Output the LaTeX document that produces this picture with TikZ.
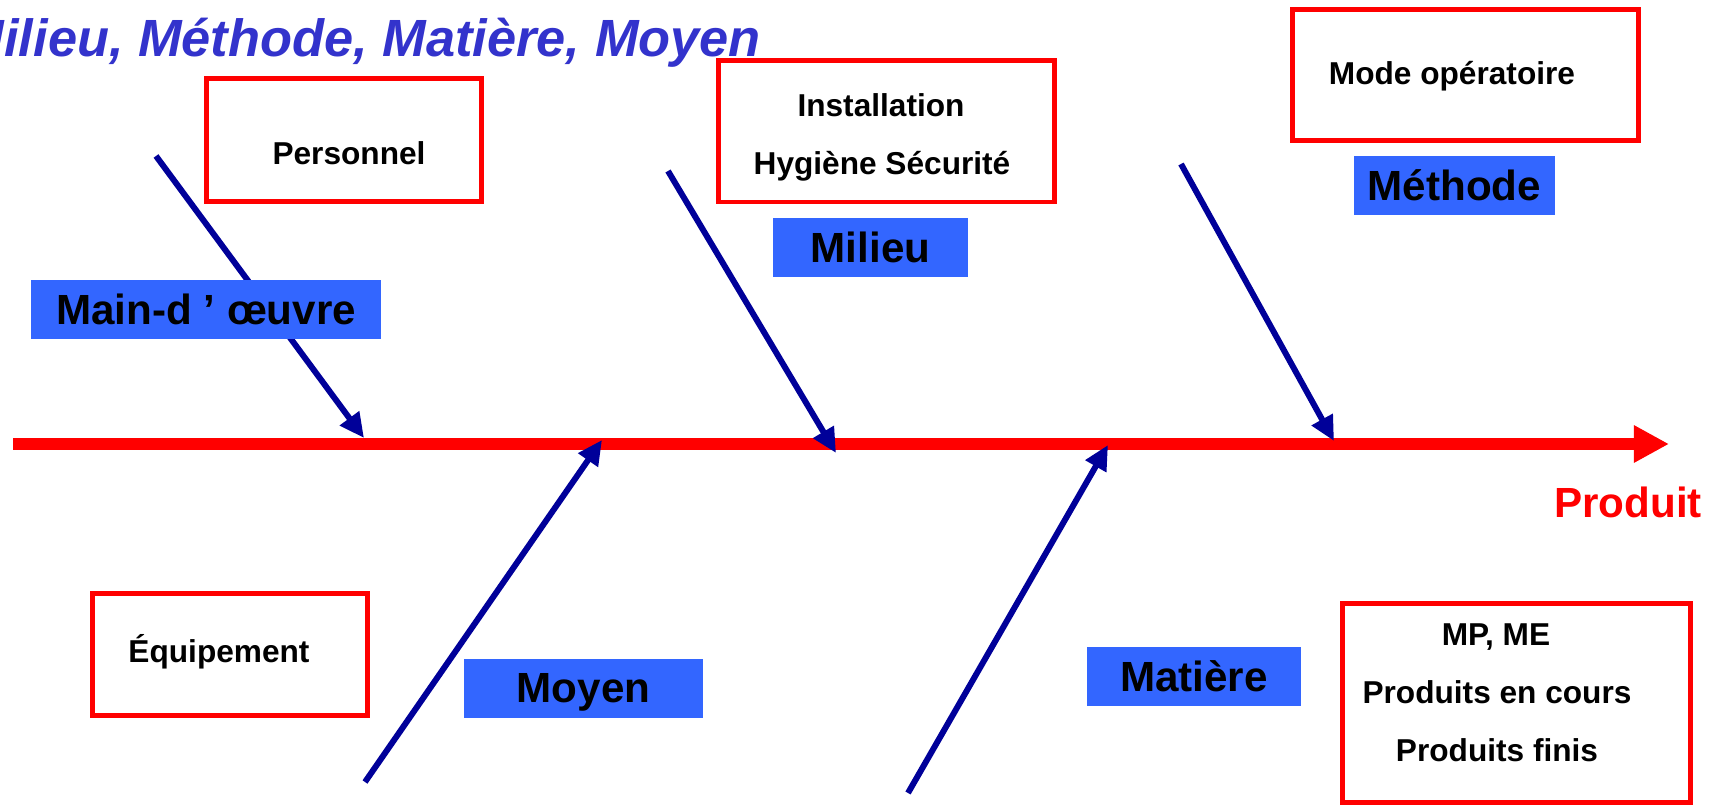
\documentclass[tikz,border=0pt]{standalone}
\usepackage{fontspec}
\setmainfont{Liberation Sans}
\usetikzlibrary{arrows.meta}

\definecolor{bonenavy}{HTML}{000099}
\definecolor{labelblue}{HTML}{3366FF}
\definecolor{titleblue}{HTML}{3333CC}

\tikzset{
  causebox/.style={draw=red,line width=1.42pt,minimum width=#1,inner sep=0pt},
  causetext/.style={anchor=base,font=\fontsize{9}{11}\selectfont\bfseries},
  familylabel/.style={fill=labelblue,inner sep=0pt,minimum height=0.59cm,
    text height=8.5pt,text depth=0pt,font=\fontsize{12}{14}\selectfont\bfseries},
  bone/.style={draw=bonenavy,line width=1.7pt,-{Triangle[length=7pt,width=6.5pt]}},
  spine/.style={draw=red,line width=3.4pt,-{Triangle[length=10pt,width=10pt]}}
}

\begin{document}
\begin{tikzpicture}
        \useasboundingbox (0,0) rectangle (17.12,8.08);
        \clip (0,0) rectangle (17.12,8.08);

        % the title, cut at the left edge
        \node[anchor=base west,inner sep=0pt,text=titleblue,
              font=\fontsize{14.9}{17}\selectfont\bfseries\itshape] (title)
              at (-0.40,7.51) {Milieu, Méthode, Matière, Moyen};

        % draw the spine
        \coordinate (tail) at (0.13,3.64);
        \coordinate (head) at (16.69,3.64);
        \draw[spine] (tail) -- (head);
        \node[anchor=base,text=red,font=\fontsize{12}{14}\selectfont\bfseries]
              (produit) at (16.28,2.91) {Produit};

        % draw the bones
        \foreach \b/\sx/\sy/\tx/\ty in {
            mo/1.56/6.52/3.64/3.70,
            mi/6.68/6.37/8.36/3.55,
            me/11.81/6.44/13.34/3.67,
            my/3.65/0.26/6.02/3.68,
            ma/9.08/0.15/11.08/3.63} {
                \coordinate (\b-start) at (\sx,\sy);
                \coordinate (\b-tip) at (\tx,\ty);
                \draw[bone] (\b-start) -- (\b-tip);
        }

        % draw the red boxes
        \node[causebox=2.75cm,minimum height=1.23cm] (personnel) at (3.44,6.68) {};
        \node[causebox=3.36cm,minimum height=1.41cm] (installation) at (8.865,6.765) {};
        \node[causebox=3.46cm,minimum height=1.31cm] (mode) at (14.655,7.33) {};
        \node[causebox=2.75cm,minimum height=1.22cm] (equipement) at (2.30,1.535) {};
        \node[causebox=3.48cm,minimum height=1.99cm] (matieres) at (15.165,1.05) {};

        % the texts in the boxes
        \foreach \n/\x/\y/\t in {
            t1/3.49/6.43/Personnel,
            t2/8.81/6.91/Installation,
            t3/8.82/6.33/Hygiène Sécurité,
            t4/14.52/7.23/Mode opératoire,
            t5/2.19/1.46/Équipement,
            t6/14.96/1.63/{MP, ME},
            t7/14.97/1.05/Produits en cours,
            t8/14.97/0.47/Produits finis}
                \node[causetext] (\n) at (\x,\y) {\t};

        % draw the family labels
        \foreach \n/\x/\y/\w/\t in {
            mainoeuvre/2.06/4.985/3.50/Main-d ’ œuvre,
            milieu/8.705/5.605/1.95/Milieu,
            methode/14.545/6.225/2.01/Méthode,
            moyen/5.835/1.20/2.39/Moyen,
            matiere/11.94/1.315/2.14/Matière}
                \node[familylabel,minimum width=\w cm] (\n) at (\x,\y) {\t};
\end{tikzpicture}
\end{document}
